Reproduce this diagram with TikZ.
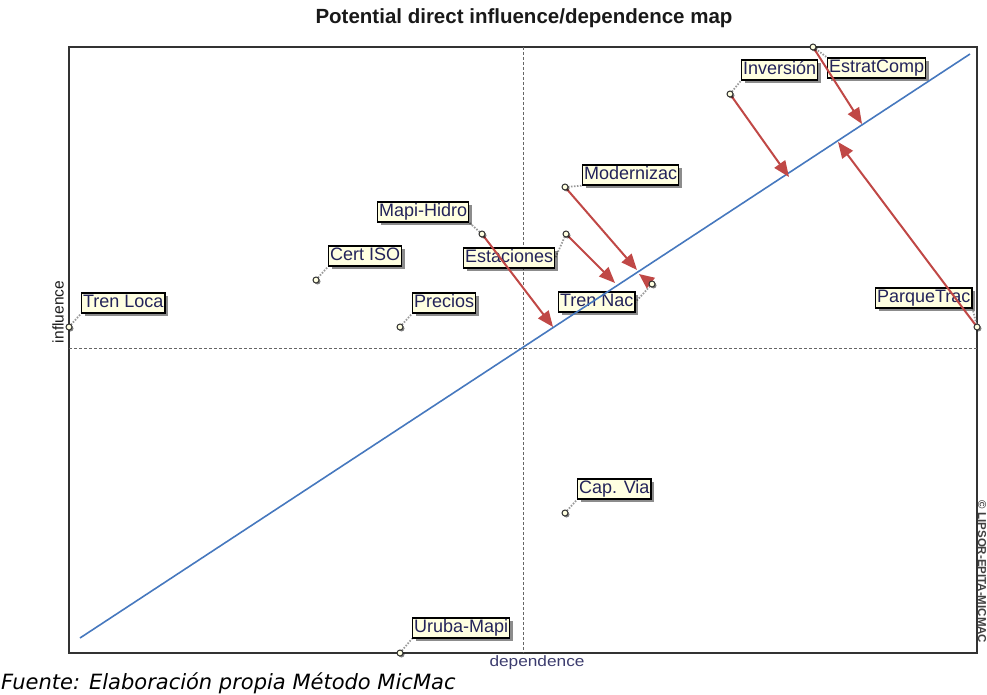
\documentclass[tikz,border=0pt]{standalone}
\usepackage{fontspec}
\setmainfont{Liberation Sans}
\newfontfamily\dejavu{DejaVu Sans}
\usetikzlibrary{arrows.meta,shadows}
\definecolor{labfill}{RGB}{255,255,225}
\definecolor{labtext}{RGB}{35,35,90}
\definecolor{arrred}{RGB}{192,72,70}
\definecolor{lineblue}{RGB}{70,120,190}
\definecolor{axtext}{RGB}{60,60,110}
\pgfdeclarelayer{bg}
\pgfdeclarelayer{labels}
\pgfdeclarelayer{lines}
\pgfsetlayers{bg,labels,lines,main}
\begin{document}
\begin{tikzpicture}[x=1pt,y=-1pt,
  lab/.style={draw=black, line width=1.2pt, fill=labfill, text=labtext,
    font=\fontsize{18}{20}\selectfont, inner xsep=1.5pt, inner ysep=1.5pt,
    text height=13pt, text depth=4pt, anchor=west,
    drop shadow={shadow xshift=3pt, shadow yshift=-3pt, fill=black, opacity=0.45}},
  dotpt/.style={circle, draw=black!80, fill=labfill, line width=1pt, inner sep=0pt,
    minimum size=6pt,
    drop shadow={shadow xshift=1.5pt, shadow yshift=-1.5pt, fill=black, opacity=0.5}},
  leader/.style={draw=black!40, line width=1.8pt, dash pattern=on 1.5pt off 1.5pt},
  movearrow/.style={draw=arrred, line width=2pt, -{Triangle[length=16pt,width=13pt]}},
  crossline/.style={draw=black!60, line width=0.8pt, dash pattern=on 3pt off 2pt}
]
\useasboundingbox (0,0) rectangle (987,695);

% title and captions
\node[font=\bfseries\fontsize{20.5}{24}\selectfont, text=black!90] (title) at (524,18) {Potential direct influence/dependence map};
\node[anchor=west, font=\dejavu\itshape\fontsize{21}{24}\selectfont, inner sep=0pt] (foot) at (1,683) {Fuente: Elaboración propia Método MicMac};
\node[rotate=90, font=\fontsize{15.5}{17}\selectfont, text=black!90] (ylab) at (58,312) {influence};
\node[font=\fontsize{15}{17}\selectfont, text=axtext] (xlab) at (537,663) {\scalebox{1.15}[1]{dependence}};
\node[rotate=-90, font=\bfseries\fontsize{11.5}{13}\selectfont, text=black!75] (copy) at (982,572) {© LIPSOR-EPITA-MICMAC};

% points
\node[dotpt] (pEstrat) at (813,47) {};
\node[dotpt] (pInv) at (730,94) {};
\node[dotpt] (pMod) at (565,187) {};
\node[dotpt] (pMapi) at (482,234) {};
\node[dotpt] (pEst) at (566,234) {};
\node[dotpt] (pCert) at (316,280) {};
\node[dotpt] (pPrec) at (400,327) {};
\node[dotpt] (pTNac) at (652,284) {};
\node[dotpt] (pTLoc) at (69,327) {};
\node[dotpt] (pParq) at (977,327) {};
\node[dotpt] (pCap) at (565,513) {};
\node[dotpt] (pUru) at (400,653) {};

% labels
\begin{pgfonlayer}{labels}
\node[lab] (lEstrat) at (827,68) {EstratComp};
\node[lab] (lInv) at (741,70) {Inversión};
\node[lab] (lMod) at (582,175) {Modernizac};
\node[lab] (lMapi) at (377,212) {Mapi-Hidro};
\node[lab] (lEst) at (463,258) {Estaciones};
\node[lab] (lCert) at (328,256) {Cert ISO};
\node[lab] (lPrec) at (412,303) {Precios};
\node[lab] (lTNac) at (558,302) {Tren Nac};
\node[lab] (lTLoc) at (81,303) {Tren Loca};
\node[lab] (lParq) at (875,298) {ParqueTrac};
\node[lab] (lCap) at (577,489) {Cap. Via};
\node[lab] (lUru) at (412,628) {Uruba-Mapi};
\end{pgfonlayer}

% frame, crosshair, leaders
\begin{pgfonlayer}{bg}
\coordinate (fTL) at (69,47);
\coordinate (fBR) at (977,653);
\draw[line width=1.8pt, draw=black!80] (fTL) rectangle (fBR);
\coordinate (vTop) at (523,47);
\coordinate (vBot) at (523,653);
\coordinate (hL) at (69,348);
\coordinate (hR) at (977,348);
\draw[crossline] (vTop) -- (vBot);
\draw[crossline] (hL) -- (hR);
\draw[leader] (pEstrat.center) -- (lEstrat.north west);
\draw[leader] (pInv.center) -- (lInv.south west);
\draw[leader] (pMod.center) -- (lMod.south west);
\draw[leader] (pMapi.center) -- (lMapi.south east);
\draw[leader] (pEst.center) -- (lEst.east);
\draw[leader] (pCert.center) -- (lCert.south west);
\draw[leader] (pPrec.center) -- (lPrec.south west);
\draw[leader] (pTNac.center) -- (lTNac.east);
\draw[leader] (pTLoc.center) -- (lTLoc.south west);
\draw[leader] (pParq.center) -- (lParq.south east);
\draw[leader] (pCap.center) -- (lCap.south west);
\draw[leader] (pUru.center) -- (lUru.south west);
\end{pgfonlayer}

% diagonal and displacement arrows
\begin{pgfonlayer}{lines}
\coordinate (bl1) at (80,638);
\coordinate (bl2) at (970,54);
\draw[draw=lineblue, line width=1.6pt] (bl1) -- (bl2);
\coordinate (tEstrat) at (862,124);
\coordinate (tInv) at (789,177);
\coordinate (tMod) at (637,270);
\coordinate (tEst) at (615,283);
\coordinate (tMapi) at (553,327);
\coordinate (tParq) at (838,142);
\coordinate (tTNac) at (639,274);
\draw[movearrow] (pEstrat.center) -- (tEstrat);
\draw[movearrow] (pInv.center) -- (tInv);
\draw[movearrow] (pMod.center) -- (tMod);
\draw[movearrow] (pEst.center) -- (tEst);
\draw[movearrow] (pMapi.center) -- (tMapi);
\draw[movearrow] (pParq.center) -- (tParq);
\draw[movearrow, -{Triangle[length=15pt,width=13pt]}] (pTNac.center) -- (tTNac);
\end{pgfonlayer}
\end{tikzpicture}
\end{document}
